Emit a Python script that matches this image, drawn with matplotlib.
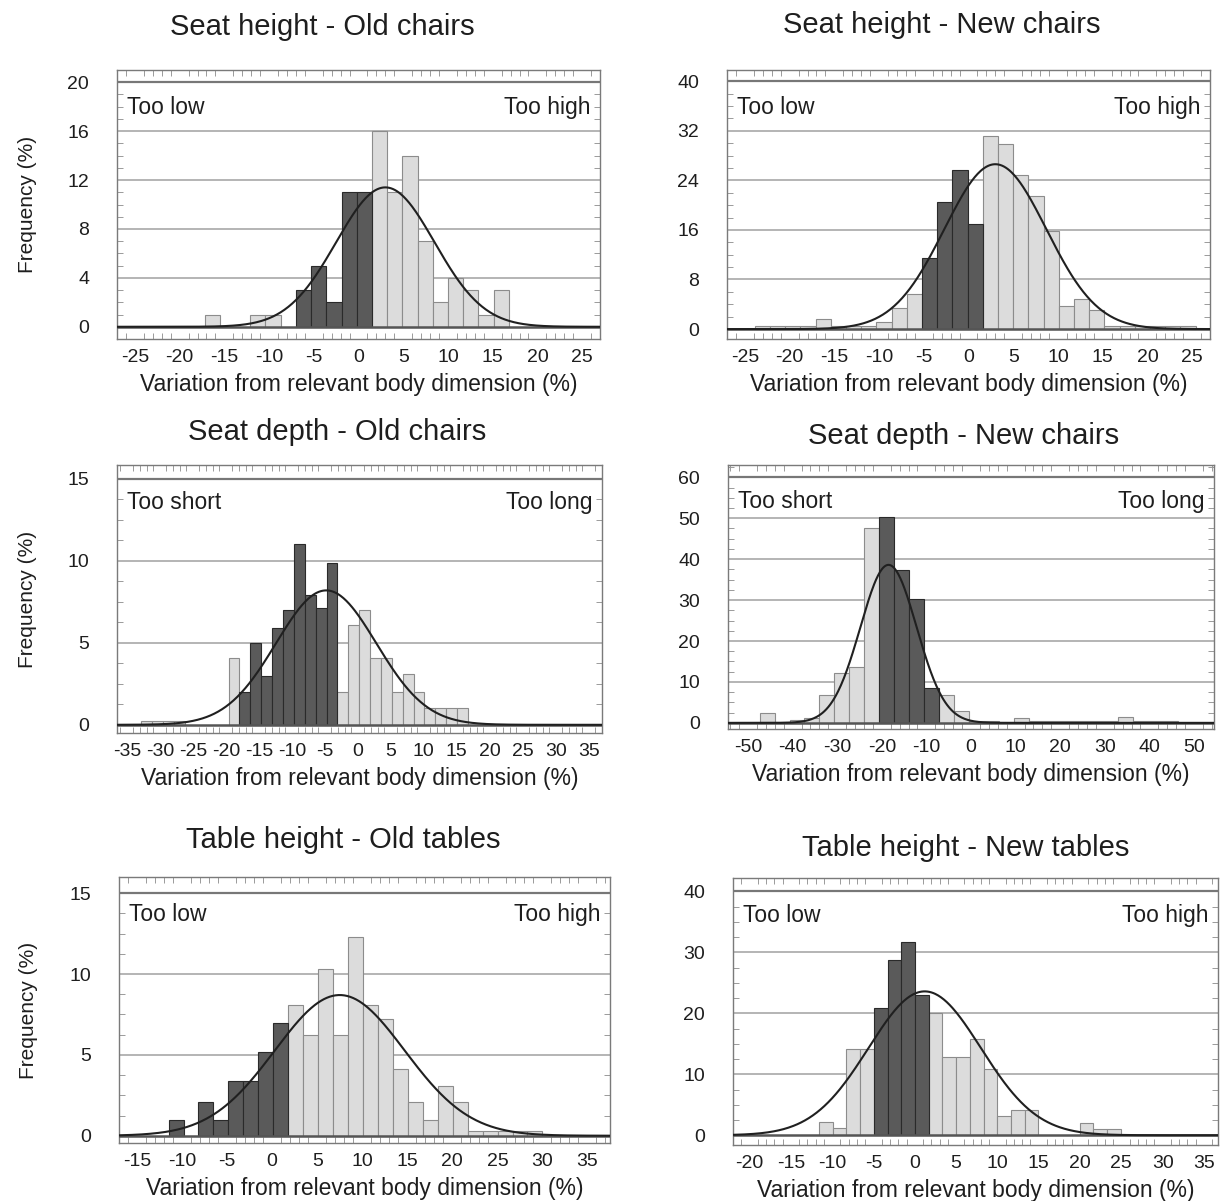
import numpy as np
import matplotlib.pyplot as plt
from matplotlib.ticker import MultipleLocator

plt.rcParams['font.family'] = ['Liberation Sans', 'DejaVu Sans']
plt.rcParams['axes.unicode_minus'] = False

W, H = 1220, 1201

# each histogram: first bin edge, bin width, frequencies (%), range of
# bins that fit the body dimension, and the fitted normal (mean, sd, peak)
sh_old_start, sh_old_width = -17.2, 1.7
sh_old_freq = [1, 0, 0, 1, 1, 0, 3, 5, 2, 11, 11, 16, 11, 14, 7, 2, 4, 3, 1, 3]
sh_old_fit = (-7.0, 1.5)
sh_old_normal = (3.0, 5.5, 11.4)

sh_new_start, sh_new_width = -23.9, 1.7
sh_new_freq = [0.5, 0.5, 0.5, 0.5, 1.7, 0.5, 0.5, 0.5, 1.1, 3.4, 5.7, 11.5, 20.5,
               25.6, 16.9, 31.2, 29.9, 24.9, 21.4, 15.9, 3.7, 4.8, 3.0, 0.5, 0.5,
               0.5, 0.5, 0.5, 0.5]
sh_new_fit = (-5.2, 1.6)
sh_new_normal = (3.0, 5.7, 26.6)

sd_old_start, sd_old_width = -32.8, 1.65
sd_old_freq = [0.25, 0.25, 0.25, 0.25, 0, 0, 0, 0, 4.1, 2.0, 5.0, 3.0, 5.9, 7.0,
               11.0, 7.9, 7.1, 9.9, 2.0, 6.1, 7.0, 4.1, 4.1, 2.0, 3.1, 2.0, 1.0,
               1.0, 1.0, 1.0]
sd_old_fit = (-18.0, -3.1)
sd_old_normal = (-4.8, 7.6, 8.2)

sd_new_start, sd_new_width = -47.4, 3.35
sd_new_freq = [2.3, 0, 0.6, 1.2, 6.8, 12.2, 13.7, 47.7, 50.2, 37.3, 30.2, 8.6,
               6.9, 2.9, 0.5, 0.5, 0, 1.2, 0.5, 0.5, 0.5, 0.5, 0.5, 0.5, 1.4,
               0.5, 0.5, 0.5]
sd_new_fit = (-20.6, -7.2)
sd_new_normal = (-18.5, 6.3, 38.6)

th_old_start, th_old_width = -11.5, 1.66
th_old_freq = [1.0, 0, 2.1, 1.0, 3.4, 3.4, 5.2, 7.0, 8.1, 6.2, 10.3, 6.2, 12.3,
               8.1, 7.2, 4.1, 2.1, 1.0, 3.1, 2.1, 0.3, 0.3, 0.3, 0.3, 0.3]
th_old_fit = (-11.5, 1.8)
th_old_normal = (7.5, 7.2, 8.7)

th_new_start, th_new_width = -11.6, 1.66
th_new_freq = [2.1, 1.2, 14.2, 14.2, 20.8, 28.8, 31.7, 23.0, 20.0, 12.9, 12.9,
               15.8, 10.9, 3.2, 4.1, 4.1, 0, 0, 0, 2.0, 1.0, 1.0]
th_new_fit = (-5.0, 1.7)
th_new_normal = (1.2, 6.8, 23.6)

XLABEL = 'Variation from relevant body dimension (%)'
TEXT = '#1e1e1e'

fig = plt.figure(figsize=(W / 100, H / 100), dpi=100)


def panel(box, title, title_xy, start, width, freq, fit, normal,
          xticks, xlim, yticks, ylim, words, ylabel, minor_x):
    l, t, r, b = box
    ax = fig.add_axes([l / W, 1 - b / H, (r - l) / W, (b - t) / H])
    freq = np.asarray(freq, dtype=float)
    left = start + width * np.arange(len(freq))
    centre = left + width / 2
    dark = (centre > fit[0]) & (centre < fit[1])
    show = freq > 0

    light = show & ~dark
    ax.bar(left[light], freq[light], width=width, align='edge',
           color='#dcdcdc', edgecolor='#8c8c8c', linewidth=0.8, zorder=2)
    ax.bar(left[dark & show], freq[dark & show], width=width, align='edge',
           color='#5a5a5a', edgecolor='#2a2a2a', linewidth=0.8, zorder=2)

    mu, sd, peak = normal
    xs = np.linspace(xlim[0], xlim[1], 500)
    ax.plot(xs, peak * np.exp(-0.5 * ((xs - mu) / sd) ** 2),
            color='#202020', lw=1.5, zorder=4)

    for yv in yticks[1:-1]:
        ax.axhline(yv, color='#a0a0a0', lw=1.1, zorder=1)
    ax.axhline(yticks[0], color='#555555', lw=1.8, zorder=3)
    ax.axhline(yticks[-1], color='#777777', lw=1.6, zorder=1)

    ax.set_xlim(*xlim)
    ax.set_ylim(*ylim)
    ax.set_xticks(xticks)
    ax.set_yticks(yticks)
    ax.xaxis.set_minor_locator(MultipleLocator(minor_x))
    ax.yaxis.set_minor_locator(MultipleLocator((yticks[1] - yticks[0]) / 4))
    ax.tick_params(which='major', length=0, labelsize=14, colors=TEXT)
    ax.tick_params(axis='x', which='major', pad=7)
    ax.tick_params(axis='y', which='major', pad=20)
    ax.tick_params(which='minor', direction='in', length=4, width=0.7,
                   color='#9a9a9a', top=True, right=True)
    for s in ax.spines.values():
        s.set_color('#7a7a7a')
        s.set_linewidth(1.0)

    ax.set_xlabel(XLABEL, fontsize=16.5, color=TEXT, labelpad=5)
    if ylabel:
        ax.set_ylabel('Frequency (%)', fontsize=15, color=TEXT)
        ax.yaxis.set_label_coords(-0.165, 0.5)

    ax.text(0.02, 0.86, words[0], transform=ax.transAxes, fontsize=16.5,
            color=TEXT, va='center', ha='left')
    ax.text(0.98, 0.86, words[1], transform=ax.transAxes, fontsize=16.5,
            color=TEXT, va='center', ha='right')

    fig.text(title_xy[0] / W, 1 - title_xy[1] / H, title, fontsize=21,
             color=TEXT, ha='center', va='center')
    return ax


panel((117, 70, 600, 339), 'Seat height - Old chairs', (322, 27),
      sh_old_start, sh_old_width, sh_old_freq, sh_old_fit, sh_old_normal,
      range(-25, 26, 5), (-27, 27), list(range(0, 21, 4)), (-1, 21),
      ('Too low', 'Too high'), True, 1)

panel((727, 70, 1210, 339), 'Seat height - New chairs', (942, 25),
      sh_new_start, sh_new_width, sh_new_freq, sh_new_fit, sh_new_normal,
      range(-25, 26, 5), (-27, 27), list(range(0, 41, 8)), (-1.6, 41.8),
      ('Too low', 'Too high'), False, 1)

panel((117, 465, 602, 733), 'Seat depth - Old chairs', (337, 432),
      sd_old_start, sd_old_width, sd_old_freq, sd_old_fit, sd_old_normal,
      range(-35, 36, 5), (-36.5, 37), list(range(0, 16, 5)), (-0.5, 15.85),
      ('Too short', 'Too long'), True, 1)

panel((728, 465, 1214, 729), 'Seat depth - New chairs', (964, 436),
      sd_new_start, sd_new_width, sd_new_freq, sd_new_fit, sd_new_normal,
      range(-50, 51, 10), (-54.5, 54.5), list(range(0, 61, 10)), (-1.5, 63),
      ('Too short', 'Too long'), False, 2)

panel((119, 877, 610, 1143), 'Table height - Old tables', (343, 840),
      th_old_start, th_old_width, th_old_freq, th_old_fit, th_old_normal,
      range(-15, 36, 5), (-17, 37.5), list(range(0, 16, 5)), (-0.45, 16),
      ('Too low', 'Too high'), True, 1)

panel((733, 878, 1218, 1145), 'Table height - New tables', (966, 848),
      th_new_start, th_new_width, th_new_freq, th_new_fit, th_new_normal,
      range(-20, 36, 5), (-22, 36.7), list(range(0, 41, 10)), (-1.6, 42.2),
      ('Too low', 'Too high'), False, 1)

fig.savefig('out.png', dpi=100)
